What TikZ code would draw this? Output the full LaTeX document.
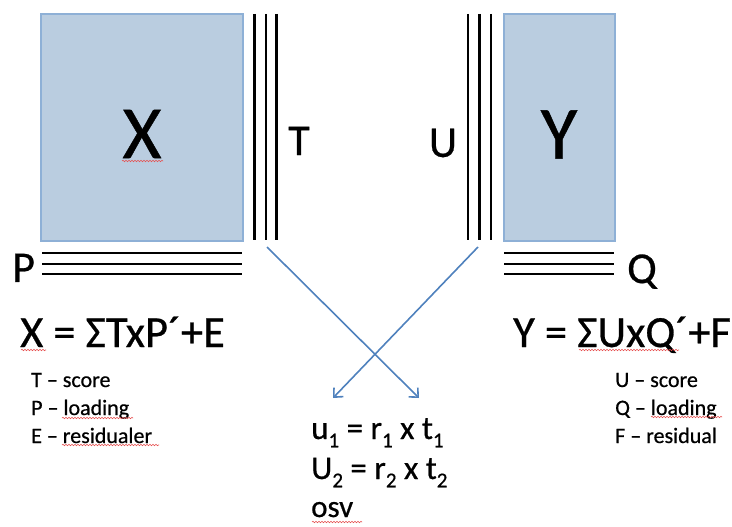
\documentclass[tikz,border=0pt]{standalone}
\usepackage{fontspec}
\setmainfont{Carlito}[FakeBold=0.6]
\usetikzlibrary{arrows.meta,decorations.pathmorphing}
\definecolor{boxfill}{RGB}{186,205,224}
\definecolor{boxedge}{RGB}{142,176,214}
\definecolor{arrblue}{RGB}{79,129,189}
\definecolor{squigred}{RGB}{230,80,80}
\newcommand\fs[1]{\fontsize{#1bp}{#1bp}\selectfont}
\newcommand\sbx[1]{\raisebox{-0.25em}{\fs{21}#1}}
\tikzset{
  mat/.style={fill=boxfill, draw=boxedge, line width=1.2bp, inner sep=0pt},
  bar/.style={black, line width=2.4bp},
  arr/.style={draw=arrblue, line width=1.6bp, -{Straight Barb[length=7bp,width=13bp,line width=1.6bp]}},
  squig/.style={draw=squigred, line width=0.6bp, decorate, decoration={snake, amplitude=0.7bp, segment length=3bp}},
  big/.style={font=\fs{75}, inner sep=0pt},
  mid/.style={font=\fs{44}, inner sep=0pt},
  form/.style={font=\fs{44.5}, inner sep=0pt, anchor=base west},
  leg/.style={font=\fs{22}, inner sep=0pt, anchor=base west},
  res/.style={font=\fs{33}, inner sep=0pt, anchor=base west}
}
\begin{document}
\begin{tikzpicture}[x=1bp,y=-1bp]
\useasboundingbox (0,0) rectangle (732,527);
% matrices
\node[mat, minimum width=202bp, minimum height=227bp] (Xbox) at (142,127.5) {};
\node[mat, minimum width=111bp, minimum height=227bp] (Ybox) at (559.5,127.5) {};
\node[big] (Xlab) at (142,134) {X};
\node[big] (Ylab) at (559,134.5) {Y};
% T bars
\foreach \x in {254.5,265.7,276.3} \draw[bar] (\x,14) -- (\x,240);
% U bars
\foreach \x in {468,479.5,491} \draw[bar] (\x,14) -- (\x,240);
% P bars
\foreach \y in {253,264,274} \draw[bar] (42,\y) -- (242,\y);
% Q bars
\foreach \y in {253,264,274} \draw[bar] (504,\y) -- (614,\y);
% labels
\node[mid] (Tlab) at (299,141) {T};
\node[mid] (Ulab) at (443,143) {U};
\node[mid, anchor=base west] (Plab) at (12,282) {P};
\node[mid, anchor=base west] (Qlab) at (627,283) {Q};
% arrows
\coordinate (tS) at (267,247);
\coordinate (tE) at (419,398);
\coordinate (uS) at (478,247);
\coordinate (uE) at (333,398);
\draw[arr] (tS) -- (tE);
\draw[arr] (uS) -- (uE);
% formulas
\node[form] (fx) at (20,347) {X = ΣTxP´+E};
\node[form] (fy) at (513,347) {Y = ΣUxQ´+F};
% legends
\node[leg] (l1) at (31,387) {T – score};
\node[leg] (l2) at (31,415) {P – loading};
\node[leg] (l3) at (31,443) {E – residualer};
\node[leg] (r1) at (615,387) {U – score};
\node[leg] (r2) at (615,415) {Q – loading};
\node[leg] (r3) at (615,443) {F – residual};
% relation
\node[res] (b1) at (311,439) {u\sbx{1} = r\sbx{1} x t\sbx{1}};
\node[res] (b2) at (311,479) {U\sbx{2} = r\sbx{2} x t\sbx{2}};
\node[res, font=\fs{31}, text depth=0pt] (b3) at (311,517) {osv};
% spell-check squiggles
\draw[squig] (122,161) -- (163,161);
\draw[squig] (21,350) -- (46,350);
\draw[squig] (62,418) -- (133,418);
\draw[squig] (62,445) -- (159,445);
\draw[squig] (312,522) -- (362,522);
\draw[squig] (579,350) -- (679,350);
\draw[squig] (651,417) -- (722,417);
\end{tikzpicture}
\end{document}
